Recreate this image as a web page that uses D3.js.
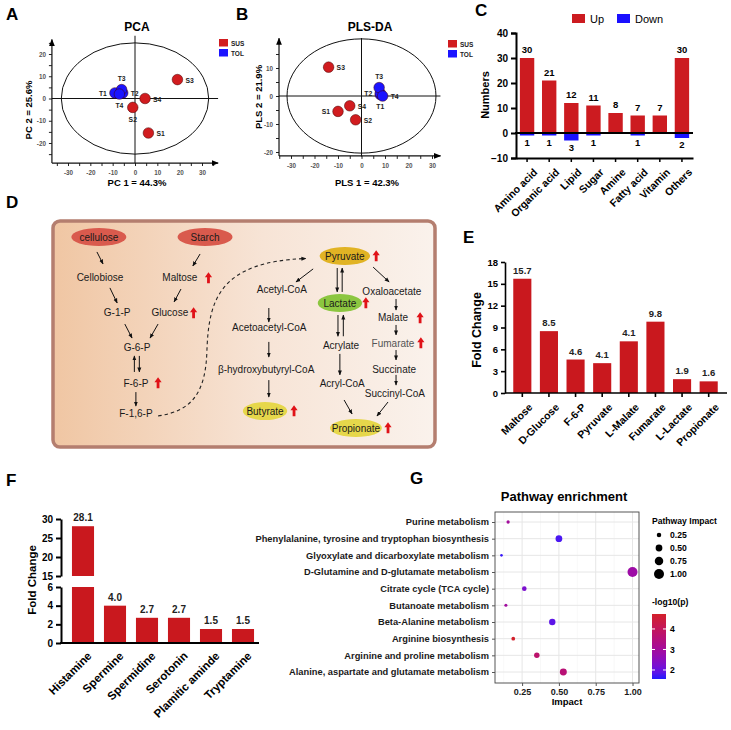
<!DOCTYPE html>
<html><head><meta charset="utf-8">
<script src="https://cdn.jsdelivr.net/npm/d3@7"></script>
<style>
body{margin:0;background:#fff}
svg{display:block}
text{font-family:"Liberation Sans",Arial,sans-serif}
</style>
</head><body>
<svg id="c" width="731" height="730"></svg>
<script>
// ================= DATA =================
// A / B : score plots
const samples   = ["S1","S2","S3","S4","T1","T2","T3","T4"];
const sampleGrp = ["SUS","SUS","SUS","SUS","TOL","TOL","TOL","TOL"];
const pcaX = [6, -1, 19, 4.5, -9, -5.5, -6, -7];
const pcaY = [-15.5, -4, 8.5, 0, 2.5, 2.5, 4, 2];
const pcaLabelSide = ["r","bl","r","r","l","r","t","b"];
const plsX = [-10, -2.5, -14, -5, 8, 8, 7.5, 9];
const plsY = [-5.5, -8.5, 10.3, -3.5, 0.5, 1, 3, 0];
const plsLabelSide = ["l","r","r","r","b","l","t","r"];
const groups = ["SUS","TOL"];

// C : numbers of metabolites
const cCats = ["Amino acid","Organic acid","Lipid","Sugar","Amine","Fatty acid","Vitamin","Others"];
const cUp   = [30, 21, 12, 11, 8, 7, 7, 30];
const cDown = [1, 1, 3, 1, 0, 1, 0, 2];

// E : fold change (carbohydrate / SCFA)
const eCats   = ["Maltose","D-Glucose","F-6-P","Pyruvate","L-Malate","Fumarate","L-Lactate","Propionate"];
const eVals   = [15.7, 8.5, 4.6, 4.1, 7.1, 9.8, 1.9, 1.6];
const eLabels = ["15.7","8.5","4.6","4.1","4.1","9.8","1.9","1.6"];
const eTicks  = [0,3,6,9,12,15,18];

// F : fold change (amines), broken axis
const fCats   = ["Histamine","Spermine","Spermidine","Serotonin","Plamitic aminde","Tryptamine"];
const fVals   = [28.1, 4.0, 2.7, 2.7, 1.5, 1.5];
const fTicksLow  = [0,2,4,6];
const fTicksHigh = [15,20,25,30];

// G : pathway enrichment
const gPaths = ["Purine metabolism","Phenylalanine, tyrosine and tryptophan biosynthesis",
  "Glyoxylate and dicarboxylate metabolism","D-Glutamine and D-glutamate metabolism",
  "Citrate cycle (TCA cycle)","Butanoate metabolism","Beta-Alanine metabolism",
  "Arginine biosynthesis","Arginine and proline metabolism","Alanine, aspartate and glutamate metabolism"];
const gImpact = [0.155, 0.50, 0.11, 1.0, 0.265, 0.14, 0.455, 0.19, 0.35, 0.53];
const gLogP   = [3.0, 1.75, 1.65, 2.85, 2.25, 2.95, 1.9, 4.7, 3.75, 3.6];
const gSizeLegend = [0.25, 0.50, 0.75, 1.00];
const gColorTicks = [2,3,4];

// D : pathway diagram nodes (layout units 0-100 inside the box)
const dNodes = [
  {t:"cellulose", x:12.0, y:7.1, shape:"ell", fill:"#d95a4d", rx:7.2},
  {t:"Starch", x:39.8, y:7.1, shape:"ell", fill:"#d95a4d", rx:7.2},
  {t:"Cellobiose", x:12.3, y:25.2},
  {t:"Maltose", x:33.2, y:25.2, up:40.7},
  {t:"G-1-P", x:16.8, y:40.7},
  {t:"Glucose", x:30.6, y:40.7, up:36.8},
  {t:"G-6-P", x:22.0, y:55.8},
  {t:"F-6-P", x:21.7, y:71.7, up:27.5},
  {t:"F-1,6-P", x:21.7, y:85.0},
  {t:"Pyruvate", x:76.4, y:15.5, shape:"ell", fill:"#e1b324", rx:6.6, up:84.6},
  {t:"Acetyl-CoA", x:59.9, y:30.5},
  {t:"Acetoacetyl-CoA", x:56.6, y:47.3},
  {t:"β-hydroxybutyryl-CoA", x:55.8, y:65.9},
  {t:"Butyrate", x:55.5, y:84.1, shape:"ell", fill:"#e6d74b", rx:5.8, up:63.1},
  {t:"Lactate", x:75.1, y:36.3, shape:"ell", fill:"#8cc640", rx:5.8, up:81.9},
  {t:"Acrylate", x:75.4, y:55.3},
  {t:"Acryl-CoA", x:75.7, y:71.7},
  {t:"Propionate", x:79.3, y:91.6, shape:"ell", fill:"#e6d74b", rx:6.8, up:87.7},
  {t:"Oxaloacetate", x:88.7, y:31.0},
  {t:"Malate", x:89.0, y:42.9, up:96.1},
  {t:"Fumarate", x:89.0, y:54.0, up:96.3, col:"#555"},
  {t:"Succinate", x:89.3, y:65.5},
  {t:"Succinyl-CoA", x:89.5, y:76.5}
];
// arrows [x1,y1,x2,y2] in layout units
const dArrows = [
  [11.5,13.7,13.1,19.0],[38.5,14.6,36.6,19.9],[14.9,29.6,16.8,36.3],[33.5,30.1,31.7,35.8],
  [18.8,45.6,20.7,51.8],[27.5,45.6,25.4,51.8],
  [21.3,66.8,21.3,59.7],[22.6,59.7,22.6,66.8],[21.7,75.7,21.7,81.9],
  [68.1,21.2,63.6,27.0],[56.5,38.5,56.5,44.7],[56.5,53.5,56.5,60.2],[56.5,70.4,56.5,77.9],
  [74.4,20.8,74.4,31.4],[75.7,31.4,75.7,20.8],[74.6,41.6,74.6,51.0],[76.0,51.0,76.0,41.6],
  [75.1,58.8,75.1,68.1],[76.2,79.2,78.3,85.4],[83.8,20.4,88.0,27.0],
  [89.8,34.5,89.8,39.4],[89.8,46.0,89.8,50.4],[89.8,57.1,89.8,61.5],[89.8,68.1,89.8,72.6],
  [87.7,80.1,84.8,86.3]
];

// ================= SETUP =================
const svg = d3.select("#c");
const SERIF = '"Liberation Serif","Times New Roman",serif';
const RED = "#cc1b20", BLUE = "#1a10ff";
const defs = svg.append("defs");
defs.append("marker").attr("id","ah").attr("viewBox","0 0 10 10").attr("refX",9).attr("refY",5)
  .attr("markerWidth",6).attr("markerHeight",6).attr("orient","auto-start-reverse")
  .append("path").attr("d","M0,1L10,5L0,9Z").attr("fill","#000");
defs.append("marker").attr("id","ad").attr("viewBox","0 0 10 10").attr("refX",9).attr("refY",5)
  .attr("markerWidth",5).attr("markerHeight",5).attr("markerUnits","userSpaceOnUse").attr("orient","auto")
  .append("path").attr("d","M0,1L10,5L0,9Z").attr("fill","#111");

function letter(t,x,y){
  svg.append("text").attr("x",x).attr("y",y).text(t).attr("font-size",17).attr("font-weight","bold");
}

// ================= A & B =================
function scorePlot(cfg){
  const g = svg.append("g");
  const x = d3.scaleLinear().domain([-30,30]).range(cfg.xr);
  const y = d3.scaleLinear().domain(cfg.yd).range(cfg.yr);
  g.append("ellipse").attr("cx",x(0)).attr("cy",y(0))
    .attr("rx",x(cfg.ell[0])-x(0)).attr("ry",y(0)-y(cfg.ell[1]))
    .attr("fill","none").attr("stroke","#111").attr("stroke-width",1);
  g.append("line").attr("x1",x(cfg.xext[0])).attr("x2",x(cfg.xext[1])).attr("y1",y(0)).attr("y2",y(0)).attr("stroke","#111");
  g.append("line").attr("x1",x(0)).attr("x2",x(0)).attr("y1",y(cfg.vext[0])).attr("y2",y(cfg.vext[1])).attr("stroke","#111");
  const xa = d3.axisBottom(x).tickValues(d3.range(cfg.xt[0],cfg.xt[1]+1,5)).tickSize(3)
     .tickFormat(d=> d%10===0 ? d : "");
  const ya = d3.axisLeft(y).tickValues(d3.range(cfg.yt[0],cfg.yt[1]+1,5)).tickSize(3)
     .tickFormat(d=> d%10===0 ? d : "");
  const gx = g.append("g").attr("transform",`translate(0,${y(cfg.ybase)})`).call(xa);
  const gy = g.append("g").attr("transform",`translate(${x(cfg.xext[0])},0)`).call(ya);
  [gx,gy].forEach(a=>{
    a.select(".domain").remove();
    a.selectAll("text").attr("font-size",6.3).attr("font-weight","bold").attr("fill","#555").attr("font-family",'"Liberation Sans",Arial');
    a.selectAll("line").attr("stroke","#222");
  });
  gx.selectAll("text").attr("dy","0.9em");
  g.append("line").attr("x1",x(cfg.xext[0])).attr("x2",x(cfg.xext[1])).attr("y1",y(cfg.ybase)).attr("y2",y(cfg.ybase))
    .attr("stroke","#111").attr("stroke-width",1.2).attr("marker-end","url(#ah)");
  g.append("line").attr("x1",x(cfg.xext[0])).attr("x2",x(cfg.xext[0])).attr("y1",y(cfg.ybase)).attr("y2",y(cfg.ytop))
    .attr("stroke","#111").attr("stroke-width",1.2).attr("marker-end","url(#ah)");
  const col = d3.scaleOrdinal().domain(groups).range(["#d11c1f","#1b14ff"]);
  const idx = d3.range(samples.length);
  g.selectAll("circle.p").data(idx).join("circle").attr("class","p")
    .attr("cx",i=>x(cfg.px[i])).attr("cy",i=>y(cfg.py[i])).attr("r",5.3)
    .attr("fill",i=>col(sampleGrp[i])).attr("stroke","#400").attr("stroke-width",0.5);
  const off = {r:[8,3,"start"], l:[-8,3,"end"], t:[0,-9,"middle"], b:[0,14,"middle"], bl:[0,15,"middle"]};
  g.selectAll("text.lab").data(idx).join("text").attr("class","lab")
    .attr("x",i=>x(cfg.px[i])+off[cfg.side[i]][0]).attr("y",i=>y(cfg.py[i])+off[cfg.side[i]][1])
    .attr("text-anchor",i=>off[cfg.side[i]][2]).attr("font-size",6.8).attr("font-weight","bold").attr("fill","#222")
    .text(i=>samples[i]);
  g.append("text").attr("x",cfg.title[1]).attr("y",31).attr("text-anchor","middle").attr("font-size",12)
    .attr("font-weight","bold").text(cfg.title[0]);
  g.append("text").attr("transform",`translate(${cfg.ylab[1]},${cfg.ylab[2]}) rotate(-90)`).attr("text-anchor","middle")
    .attr("font-size",9.5).attr("font-weight","bold").text(cfg.ylab[0]);
  g.append("text").attr("x",cfg.xlab[1]).attr("y",186).attr("text-anchor","middle")
    .attr("font-size",9.5).attr("font-weight","bold").text(cfg.xlab[0]);
  const lg = g.append("g").attr("transform",`translate(${cfg.leg[0]},${cfg.leg[1]})`);
  groups.forEach((k,i)=>{
    lg.append("rect").attr("x",0).attr("y",i*10).attr("width",9).attr("height",7.5).attr("fill",col(k));
    lg.append("text").attr("x",12).attr("y",i*10+6.5).attr("font-size",6.5).attr("font-weight","bold").attr("fill","#222").text(k);
  });
}
letter("A",6,20);
scorePlot({xr:[68,202], yd:[-20,20], yr:[143,54], ell:[33,25], xext:[-37.2,37.2], vext:[28.2,-29],
  ybase:-29, ytop:26.5, xt:[-35,35], yt:[-25,25], px:pcaX, py:pcaY, side:pcaLabelSide,
  title:["PCA",137], ylab:["PC 2 = 25.6%",32,110], xlab:["PC 1 = 44.3%",137], leg:[219,39]});
letter("B",236,20);
scorePlot({xr:[291,432], yd:[-20,10], yr:[152,68], ell:[31.7,20.4], xext:[-35.1,33.6], vext:[20.7,-21.6],
  ybase:-21.4, ytop:20.6, xt:[-35,30], yt:[-20,15], px:plsX, py:plsY, side:plsLabelSide,
  title:["PLS-DA",370], ylab:["PLS 2 = 21.9%",262,97], xlab:["PLS 1 = 42.3%",367], leg:[448,40]});

// ================= C =================
letter("C",475,16);
(function(){
  const g = svg.append("g");
  const x = d3.scaleBand().domain(cCats).range([516,693]).paddingInner(0.35).paddingOuter(0.175);
  const y = d3.scaleLinear().domain([-10,40]).range([158,33]);
  g.selectAll("rect.up").data(cCats).join("rect").attr("class","up")
    .attr("x",d=>x(d)).attr("width",x.bandwidth()).attr("y",(d,i)=>y(cUp[i])).attr("height",(d,i)=>y(0)-y(cUp[i]))
    .attr("fill",RED);
  g.selectAll("rect.dn").data(cCats).join("rect").attr("class","dn")
    .attr("x",d=>x(d)).attr("width",x.bandwidth()).attr("y",y(0)).attr("height",(d,i)=>y(-cDown[i])-y(0))
    .attr("fill",BLUE);
  g.selectAll("text.uv").data(cCats).join("text").attr("class","uv")
    .attr("x",d=>x(d)+x.bandwidth()/2).attr("y",(d,i)=>y(cUp[i])-5).attr("text-anchor","middle")
    .attr("font-family",SERIF).attr("font-weight","bold").attr("font-size",9.5).text((d,i)=>cUp[i]);
  g.selectAll("text.dv").data(cCats.filter((d,i)=>cDown[i]>0)).join("text").attr("class","dv")
    .attr("x",d=>x(d)+x.bandwidth()/2).attr("y",d=>y(-cDown[cCats.indexOf(d)])+10).attr("text-anchor","middle")
    .attr("font-family",SERIF).attr("font-weight","bold").attr("font-size",9.5).text(d=>cDown[cCats.indexOf(d)]);
  const ya = g.append("g").attr("transform","translate(516,0)").call(d3.axisLeft(y).tickValues([-10,0,10,20,30,40]).tickSize(5));
  ya.select(".domain").attr("stroke-width",2);
  ya.selectAll("line").attr("stroke-width",2);
  ya.selectAll("text").attr("font-size",10).attr("font-weight","bold").attr("font-family",'"Liberation Sans",Arial');
  g.append("line").attr("x1",515).attr("x2",693).attr("y1",y(0)).attr("y2",y(0)).attr("stroke","#000").attr("stroke-width",2.2);
  const xa = g.append("g").attr("transform",`translate(0,${y(-10)})`).call(d3.axisBottom(x).tickSize(4).tickSizeOuter(0));
  xa.select(".domain").attr("stroke-width",2);
  xa.selectAll("line").attr("stroke-width",1.5);
  xa.selectAll("text").attr("font-size",10.5).attr("font-weight","bold").attr("font-family",'"Liberation Sans",Arial')
    .attr("text-anchor","end").attr("transform","translate(3,4) rotate(-45)").attr("dy","0.6em").attr("dx","-0.2em");
  g.append("text").attr("transform","translate(489,95) rotate(-90)").attr("text-anchor","middle")
    .attr("font-size",11).attr("font-weight","bold").text("Numbers");
  const lg = g.append("g");
  [["Up",RED,572],["Down",BLUE,617]].forEach(([t,c,lx])=>{
    lg.append("rect").attr("x",lx).attr("y",14).attr("width",13).attr("height",9).attr("fill",c);
    lg.append("text").attr("x",lx+18).attr("y",23).attr("font-size",11).text(t);
  });
})();

// ================= D =================
letter("D",6,208);
(function(){
  const g = svg.append("g");
  const X = d3.scaleLinear().domain([0,100]).range([53,435]);
  const Y = d3.scaleLinear().domain([0,100]).range([221,447]);
  const grad = defs.append("linearGradient").attr("id","bg").attr("x1","0").attr("x2","1").attr("y1","0").attr("y2","0");
  grad.append("stop").attr("offset","0").attr("stop-color","#f0c6a3");
  grad.append("stop").attr("offset","0.55").attr("stop-color","#f7e4d6");
  grad.append("stop").attr("offset","1").attr("stop-color","#faf2ec");
  g.append("rect").attr("x",X(0)).attr("y",Y(0)).attr("width",X(100)-X(0)).attr("height",Y(100)-Y(0))
    .attr("rx",7).attr("fill","url(#bg)").attr("stroke","#b47e6f").attr("stroke-width",3.5);
  const p = d3.path();
  p.moveTo(X(27.5),Y(86.3));
  p.bezierCurveTo(X(36),Y(84),X(40),Y(77),X(40.3),Y(57));
  p.bezierCurveTo(X(40.8),Y(35),X(43.5),Y(18),X(66.2),Y(16.6));
  g.append("path").attr("d",p.toString()).attr("fill","none").attr("stroke","#222").attr("stroke-width",1.1)
    .attr("stroke-dasharray","3.5,3").attr("marker-end","url(#ad)");
  g.selectAll("line.ar").data(dArrows).join("line").attr("class","ar")
    .attr("x1",d=>X(d[0])).attr("y1",d=>Y(d[1])).attr("x2",d=>X(d[2])).attr("y2",d=>Y(d[3]))
    .attr("stroke","#111").attr("stroke-width",1).attr("marker-end","url(#ad)");
  g.selectAll("ellipse").data(dNodes.filter(n=>n.shape==="ell")).join("ellipse")
    .attr("cx",n=>X(n.x)).attr("cy",n=>Y(n.y)).attr("rx",n=>X(n.rx)-X(0)).attr("ry",9).attr("fill",n=>n.fill);
  g.selectAll("text.nd").data(dNodes).join("text").attr("class","nd")
    .attr("x",n=>X(n.x)).attr("y",n=>Y(n.y)+3.5).attr("text-anchor","middle").attr("font-size",10)
    .attr("fill",n=>n.col||"#1a1a1a").text(n=>n.t);
  g.selectAll("path.up").data(dNodes.filter(n=>n.up)).join("path").attr("class","up")
    .attr("transform",n=>`translate(${X(n.up)},${Y(n.y)})`)
    .attr("d","M-3.6,-0.8L0,-5.8L3.6,-0.8L1.4,-0.8L1.4,5.2L-1.4,5.2L-1.4,-0.8Z").attr("fill","#e01218");
})();

// ================= E =================
letter("E",463,243);
(function(){
  const g = svg.append("g");
  const x = d3.scaleBand().domain(eCats).range([509,722]).paddingInner(0.32).paddingOuter(0.16);
  const y = d3.scaleLinear().domain([0,18]).range([393,262]);
  g.selectAll("rect").data(eCats).join("rect").attr("x",d=>x(d)).attr("width",x.bandwidth())
    .attr("y",(d,i)=>y(eVals[i])).attr("height",(d,i)=>y(0)-y(eVals[i])).attr("fill","#c9181e");
  g.selectAll("text.v").data(eCats).join("text").attr("class","v")
    .attr("x",d=>x(d)+x.bandwidth()/2).attr("y",(d,i)=>y(eVals[i])-5).attr("text-anchor","middle")
    .attr("font-size",9.5).attr("font-weight","bold").attr("fill","#222").text((d,i)=>eLabels[i]);
  const ya = g.append("g").attr("transform","translate(505,0)").call(d3.axisLeft(y).tickValues(eTicks).tickSize(4).tickSizeOuter(0));
  ya.select(".domain").attr("stroke-width",1.6);
  ya.selectAll("line").attr("stroke-width",1.6);
  ya.selectAll("text").attr("font-size",9.5).attr("font-weight","bold").attr("font-family",'"Liberation Sans",Arial');
  const xa = g.append("g").attr("transform","translate(0,393)").call(d3.axisBottom(x).tickSize(4).tickSizeOuter(0));
  xa.select(".domain").attr("d","M505,0H727").attr("stroke-width",1.6);
  xa.selectAll("line").attr("stroke-width",1.6);
  xa.selectAll("text").attr("font-size",10.5).attr("font-weight","bold")
    .attr("font-family",d=>d==="F-6-P" ? '"Liberation Sans",Arial' : SERIF)
    .attr("text-anchor","end").attr("transform","translate(3,4) rotate(-45)").attr("dy","0.6em").attr("dx","-0.2em");
  g.append("text").attr("transform","translate(481,330) rotate(-90)").attr("text-anchor","middle")
    .attr("font-size",12.5).attr("font-weight","bold").text("Fold Change");
})();

// ================= F =================
letter("F",6,486);
(function(){
  const g = svg.append("g");
  const x = d3.scaleBand().domain(fCats).range([67,259]).paddingInner(0.31).paddingOuter(0.155);
  const yLo = d3.scaleLinear().domain([0,6]).range([643,587]);
  const yHi = d3.scaleLinear().domain([15,30]).range([576,519]);
  fCats.forEach((c,i)=>{
    const v = fVals[i];
    if(v>6){
      g.append("rect").attr("x",x(c)).attr("width",x.bandwidth()).attr("y",yHi(v)).attr("height",yHi(15)-yHi(v)).attr("fill","#c9181e");
      g.append("rect").attr("x",x(c)).attr("width",x.bandwidth()).attr("y",yLo(6)).attr("height",yLo(0)-yLo(6)).attr("fill","#c9181e");
    } else {
      g.append("rect").attr("x",x(c)).attr("width",x.bandwidth()).attr("y",yLo(v)).attr("height",yLo(0)-yLo(v)).attr("fill","#c9181e");
    }
    g.append("text").attr("x",x(c)+x.bandwidth()/2).attr("y",(v>6?yHi(v):yLo(v))-5).attr("text-anchor","middle")
      .attr("font-size",10).attr("font-weight","bold").attr("fill","#222").text(v.toFixed(1));
  });
  const fmt = d3.format("d");
  const a1 = g.append("g").attr("transform","translate(61,0)").call(d3.axisLeft(yHi).tickValues(fTicksHigh).tickFormat(fmt).tickSize(5).tickSizeOuter(0));
  const a2 = g.append("g").attr("transform","translate(61,0)").call(d3.axisLeft(yLo).tickValues(fTicksLow).tickFormat(fmt).tickSize(5).tickSizeOuter(0));
  [a1,a2].forEach(a=>{
    a.select(".domain").attr("stroke-width",2);
    a.selectAll("line").attr("stroke-width",2);
    a.selectAll("text").attr("font-size",10).attr("font-weight","bold").attr("font-family",'"Liberation Sans",Arial');
  });
  const xa = g.append("g").attr("transform","translate(0,643)").call(d3.axisBottom(x).tickSize(0).tickSizeOuter(0));
  xa.select(".domain").attr("d","M60,0H259").attr("stroke-width",2);
  xa.selectAll("text").attr("font-size",11.5).attr("font-weight","bold").attr("font-family",'"Liberation Sans",Arial')
    .attr("text-anchor","end").attr("transform","translate(4,5) rotate(-45)").attr("dy","0.6em").attr("dx","-0.2em");
  g.append("text").attr("transform","translate(36,580) rotate(-90)").attr("text-anchor","middle")
    .attr("font-size",11.5).attr("font-weight","bold").text("Fold Change");
})();

// ================= G =================
letter("G",410,484);
(function(){
  const g = svg.append("g");
  const x = d3.scaleLinear().domain([0.066,1.044]).range([495,639]);
  const y = d3.scalePoint().domain(gPaths).range([522,672]);
  const cs = d3.scaleLinear().domain([1.56,4.73]).range(["#1f1aff","#d3202a"]).interpolate(d3.interpolateLab);
  const rs = d3.scaleSqrt().domain([0.11,1]).range([1.3,5]);
  g.append("rect").attr("x",495).attr("y",512).attr("width",144).attr("height",171).attr("fill","#fff");
  const minor = [0.125,0.375,0.625,0.875];
  g.selectAll("line.mn").data(minor).join("line").attr("class","mn").attr("x1",d=>x(d)).attr("x2",d=>x(d))
    .attr("y1",512).attr("y2",683).attr("stroke","#f3f3f3").attr("stroke-width",0.6);
  g.selectAll("line.mj").data([0.25,0.5,0.75,1]).join("line").attr("class","mj").attr("x1",d=>x(d)).attr("x2",d=>x(d))
    .attr("y1",512).attr("y2",683).attr("stroke","#e6e6e6").attr("stroke-width",1);
  g.selectAll("line.hy").data(gPaths).join("line").attr("class","hy").attr("x1",495).attr("x2",639)
    .attr("y1",d=>y(d)).attr("y2",d=>y(d)).attr("stroke","#e6e6e6").attr("stroke-width",1);
  g.append("rect").attr("x",495).attr("y",512).attr("width",144).attr("height",171).attr("fill","none")
    .attr("stroke","#444").attr("stroke-width",0.9);
  const idx = d3.range(gPaths.length);
  g.selectAll("circle.pt").data(idx).join("circle").attr("class","pt")
    .attr("cx",i=>x(gImpact[i])).attr("cy",i=>y(gPaths[i])).attr("r",i=>rs(gImpact[i])).attr("fill",i=>cs(gLogP[i]));
  const ya = g.append("g").attr("transform","translate(495,0)").call(d3.axisLeft(y).tickSize(3));
  ya.select(".domain").remove();
  ya.selectAll("line").attr("stroke","#555");
  ya.selectAll("text").attr("font-size",9.3).attr("font-weight","bold").attr("fill","#1a1a1a").attr("font-family",'"Liberation Sans",Arial');
  const xa = g.append("g").attr("transform","translate(0,683)").call(d3.axisBottom(x).tickValues([0.25,0.5,0.75,1]).tickFormat(d3.format(".2f")).tickSize(3));
  xa.select(".domain").remove();
  xa.selectAll("line").attr("stroke","#555");
  xa.selectAll("text").attr("font-size",9).attr("font-weight","bold").attr("fill","#1a1a1a").attr("font-family",'"Liberation Sans",Arial');
  g.append("text").attr("x",567).attr("y",705).attr("text-anchor","middle").attr("font-size",9.5).attr("font-weight","bold").text("Impact");
  g.append("text").attr("x",564).attr("y",501).attr("text-anchor","middle").attr("font-size",13).attr("font-weight","bold").text("Pathway enrichment");
  g.append("text").attr("x",652).attr("y",524).attr("font-size",8.6).attr("font-weight","bold").text("Pathway Impact");
  const ly = d3.scalePoint().domain(gSizeLegend).range([535,574]);
  gSizeLegend.forEach(v=>{
    g.append("circle").attr("cx",659).attr("cy",ly(v)).attr("r",rs(v)).attr("fill","#000");
    g.append("text").attr("x",670).attr("y",ly(v)+3.2).attr("font-size",8.6).attr("font-weight","bold").text(v.toFixed(2));
  });
  g.append("text").attr("x",652).attr("y",605).attr("font-size",8.6).attr("font-weight","bold").text("-log10(p)");
  const cy = d3.scaleLinear().domain([1.56,4.73]).range([679,614]);
  const lg = defs.append("linearGradient").attr("id","cb").attr("x1","0").attr("x2","0").attr("y1","1").attr("y2","0");
  d3.range(0,1.0001,0.1).forEach(t=>{
    lg.append("stop").attr("offset",t).attr("stop-color",cs(1.56+t*(4.73-1.56)));
  });
  g.append("rect").attr("x",652).attr("y",614).attr("width",14).attr("height",65).attr("fill","url(#cb)");
  gColorTicks.forEach(v=>{
    g.append("line").attr("x1",652).attr("x2",655).attr("y1",cy(v)).attr("y2",cy(v)).attr("stroke","#fff");
    g.append("line").attr("x1",663).attr("x2",666).attr("y1",cy(v)).attr("y2",cy(v)).attr("stroke","#fff");
    g.append("text").attr("x",670).attr("y",cy(v)+3.2).attr("font-size",8.6).attr("font-weight","bold").text(v);
  });
})();
</script>
</body></html>
